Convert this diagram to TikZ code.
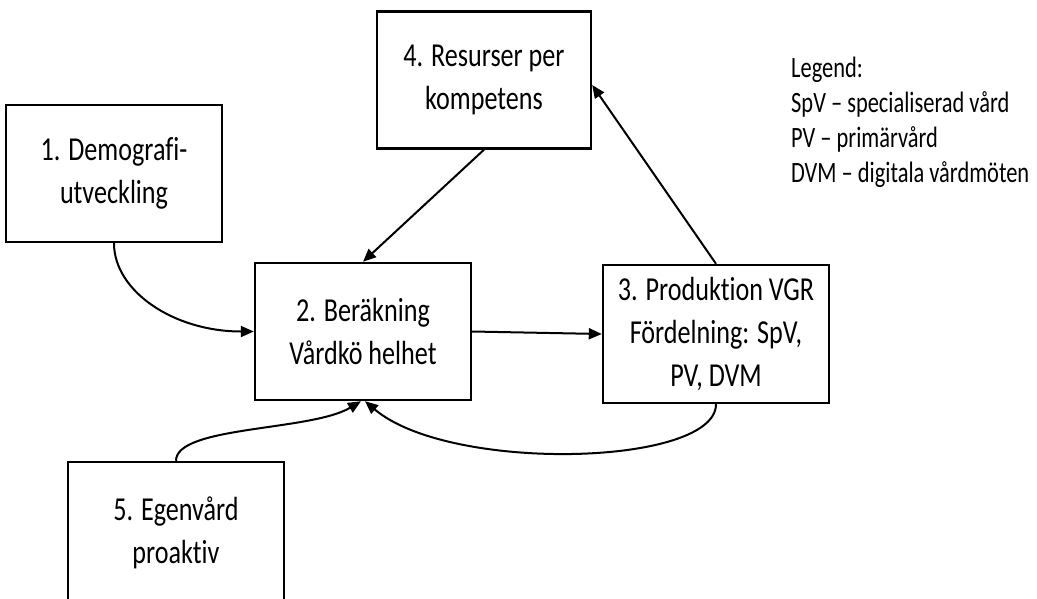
\documentclass[tikz,border=0pt]{standalone}
\usepackage{fontspec}
\setmainfont{Carlito}[FakeStretch=0.78, Ligatures=NoCommon]
\newfontfamily\legendfont{Carlito}[FakeStretch=0.76, Ligatures=NoCommon]
\usetikzlibrary{arrows.meta}
\tikzset{
  box/.style={draw=black, line width=2.4pt, rectangle, inner sep=0pt, align=center,
    font=\fontsize{33.5}{43}\selectfont},
  conn/.style={draw=black, line width=2pt, -{Triangle[length=13pt,width=11pt]}},
  legendtext/.style={align=left, inner sep=0pt, anchor=north west,
    font=\legendfont\fontsize{29.5}{35}\selectfont}
}
\begin{document}
\begin{tikzpicture}[x=1pt,y=-1pt]
\useasboundingbox (0,0) rectangle (1037,598);
\node[box, minimum width=214pt, minimum height=137pt] (n4) at (484,80) {4. Resurser per\\kompetens};
\node[box, minimum width=216pt, minimum height=137pt] (n1) at (114,173.5) {1. Demografi-\\utveckling};
\node[box, minimum width=216pt, minimum height=137pt] (n2) at (363,331.5) {2. Beräkning\\Vårdkö helhet};
\node[box, minimum width=226pt, minimum height=138pt] (n3) at (716,334) {3. Produktion VGR\\Fördelning: SpV,\\PV, DVM};
\node[box, minimum width=216pt, minimum height=142pt] (n5) at (176,533) {5. Egenvård\\proaktiv};
\node[legendtext] (leg) at (791,57) {Legend:\\SpV – specialiserad vård\\PV – primärvård\\DVM – digitala vårdmöten};

\draw[conn] (n1.south) .. controls +(0,48) and +(-80,0) .. (n2.west);
\draw[conn] (n4.south) -- (n2.north);
\draw[conn] (n2.east) -- (n3.west);
\draw[conn] (n3.north) -- ([yshift=-5pt]n4.east);
\draw[conn] (n3.south) .. controls +(0,62) and +(85,72) .. ([xshift=2pt]n2.south);
\draw[conn] (n5.north) .. controls +(0,-35) and +(-50,30) .. ([xshift=-2pt]n2.south);
\end{tikzpicture}
\end{document}
